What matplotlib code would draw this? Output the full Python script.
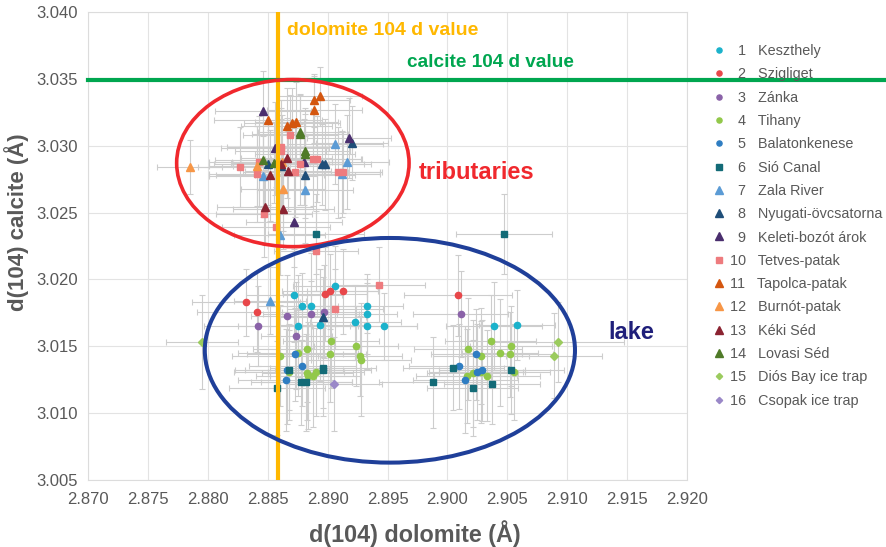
import matplotlib
matplotlib.use("Agg")
from matplotlib import pyplot as plt
from matplotlib.patches import Ellipse
from matplotlib.lines import Line2D

plt.rcParams['font.family'] = ['Liberation Sans', 'DejaVu Sans']

# ---- data: d(104) dolomite (x) and d(104) calcite (y), with error bars ----
names = ["Keszthely", "Szigliget", "Zánka", "Tihany", "Balatonkenese", "Sió Canal",
         "Zala River", "Nyugati-övcsatorna", "Keleti-bozót árok", "Tetves-patak",
         "Tapolca-patak", "Burnót-patak", "Kéki Séd", "Lovasi Séd",
         "Diós Bay ice trap", "Csopak ice trap"]

kesz_x = [2.8906, 2.8872, 2.8879, 2.8886, 2.8933, 2.8933, 2.8923, 2.8933, 2.8947, 2.8875, 2.8894, 2.9039, 2.9058]
kesz_y = [3.0195, 3.0188, 3.0180, 3.0180, 3.0180, 3.0174, 3.0168, 3.0165, 3.0165, 3.0165, 3.0166, 3.0165, 3.0166]
kesz_xe = [0.0035, 0.0040, 0.0030, 0.0045, 0.0030, 0.0025, 0.0038, 0.0042, 0.0028, 0.0050, 0.0036, 0.0040, 0.0032]
kesz_ye = [0.0030, 0.0035, 0.0025, 0.0040, 0.0020, 0.0030, 0.0028, 0.0032, 0.0025, 0.0038, 0.0042, 0.0033, 0.0026]

szig_x = [2.8832, 2.8841, 2.8898, 2.8902, 2.8913, 2.9009]
szig_y = [3.0183, 3.0176, 3.0189, 3.0191, 3.0191, 3.0188]
szig_xe = [0.0045, 0.0050, 0.0035, 0.0040, 0.0030, 0.0045]
szig_ye = [0.0025, 0.0030, 0.0035, 0.0028, 0.0032, 0.0030]

zank_x = [2.8866, 2.8886, 2.8897, 2.8842, 2.8874, 2.9011]
zank_y = [3.0173, 3.0174, 3.0176, 3.0165, 3.0158, 3.0174]
zank_xe = [0.0030, 0.0040, 0.0035, 0.0045, 0.0030, 0.0040]
zank_ye = [0.0030, 0.0025, 0.0035, 0.0030, 0.0040, 0.0032]

tih_x = [2.8903, 2.8924, 2.8883, 2.8875, 2.8860, 2.8902, 2.8927, 2.8928, 2.8883, 2.8884, 2.8888, 2.8890,
         2.8868, 2.9036, 2.9053, 2.9017, 2.9028, 2.9044, 2.9052, 2.9016, 2.9021, 2.9028, 2.9033, 2.9056]
tih_y = [3.0154, 3.0150, 3.0148, 3.0145, 3.0143, 3.0144, 3.0143, 3.0140, 3.0130, 3.0128, 3.0128, 3.0131,
         3.0131, 3.0154, 3.0150, 3.0148, 3.0143, 3.0145, 3.0144, 3.0128, 3.0130, 3.0131, 3.0128, 3.0131]
tih_xe = [0.0040, 0.0035, 0.0045, 0.0050, 0.0040, 0.0030, 0.0035, 0.0042, 0.0038, 0.0044, 0.0036, 0.0040,
          0.0046, 0.0038, 0.0034, 0.0045, 0.0040, 0.0032, 0.0036, 0.0042, 0.0038, 0.0035, 0.0044, 0.0030]
tih_ye = [0.0035, 0.0030, 0.0040, 0.0032, 0.0038, 0.0036, 0.0030, 0.0042, 0.0035, 0.0040, 0.0038, 0.0033,
          0.0036, 0.0034, 0.0030, 0.0038, 0.0036, 0.0040, 0.0032, 0.0035, 0.0040, 0.0038, 0.0034, 0.0036]

bal_x = [2.8873, 2.8879, 2.8866, 2.8865, 2.9024, 2.9010, 2.9029, 2.9025, 2.9015]
bal_y = [3.0144, 3.0135, 3.0132, 3.0125, 3.0144, 3.0135, 3.0132, 3.0131, 3.0125]
bal_xe = [0.0040, 0.0045, 0.0035, 0.0040, 0.0038, 0.0042, 0.0036, 0.0040, 0.0044]
bal_ye = [0.0035, 0.0030, 0.0040, 0.0038, 0.0034, 0.0032, 0.0038, 0.0036, 0.0040]

sio_x = [2.8868, 2.8858, 2.8878, 2.8882, 2.8896, 2.8896, 2.8890, 2.9047, 2.9005, 2.8988, 2.9021, 2.9037, 2.9053]
sio_y = [3.0132, 3.0119, 3.0123, 3.0123, 3.0134, 3.0132, 3.0234, 3.0234, 3.0134, 3.0123, 3.0119, 3.0122, 3.0132]
sio_xe = [0.0045, 0.0040, 0.0042, 0.0038, 0.0044, 0.0040, 0.0040, 0.0040, 0.0042, 0.0045, 0.0038, 0.0040, 0.0044]
sio_ye = [0.0030, 0.0035, 0.0032, 0.0036, 0.0030, 0.0034, 0.0030, 0.0030, 0.0032, 0.0034, 0.0036, 0.0030, 0.0033]

zala_x = [2.8906, 2.8916, 2.8846, 2.8881, 2.8860, 2.8912, 2.8852]
zala_y = [3.0301, 3.0288, 3.0277, 3.0267, 3.0233, 3.0279, 3.0184]
zala_xe = [0.0040, 0.0035, 0.0045, 0.0040, 0.0038, 0.0032, 0.0030]
zala_ye = [0.0030, 0.0035, 0.0030, 0.0040, 0.0030, 0.0032, 0.0025]

nyug_x = [2.8850, 2.8861, 2.8920, 2.8881, 2.8895, 2.8898, 2.8896]
nyug_y = [3.0286, 3.0285, 3.0302, 3.0278, 3.0286, 3.0286, 3.0172]
nyug_xe = [0.0045, 0.0040, 0.0030, 0.0042, 0.0035, 0.0038, 0.0036]
nyug_ye = [0.0030, 0.0035, 0.0028, 0.0032, 0.0030, 0.0034, 0.0030]

kel_x = [2.8846, 2.8856, 2.8880, 2.8918, 2.8872]
kel_y = [3.0326, 3.0298, 3.0288, 3.0306, 3.0243]
kel_xe = [0.0040, 0.0045, 0.0038, 0.0035, 0.0040]
kel_ye = [0.0030, 0.0035, 0.0032, 0.0030, 0.0034]

tet_x = [2.8869, 2.8861, 2.8861, 2.8843, 2.8827, 2.8841, 2.8873, 2.8877, 2.8888, 2.8891, 2.8909, 2.8913,
         2.8847, 2.8857, 2.8890, 2.8943, 2.8906]
tet_y = [3.0308, 3.0299, 3.0296, 3.0288, 3.0284, 3.0279, 3.0280, 3.0286, 3.0290, 3.0290, 3.0280, 3.0280,
         3.0249, 3.0239, 3.0221, 3.0196, 3.0178]
tet_xe = [0.0040, 0.0045, 0.0038, 0.0042, 0.0035, 0.0040, 0.0044, 0.0036, 0.0040, 0.0038, 0.0035, 0.0032,
          0.0040, 0.0045, 0.0035, 0.0038, 0.0040]
tet_ye = [0.0030, 0.0035, 0.0032, 0.0034, 0.0030, 0.0036, 0.0033, 0.0030, 0.0035, 0.0032, 0.0034, 0.0030,
          0.0032, 0.0030, 0.0030, 0.0028, 0.0030]

tap_x = [2.8889, 2.8894, 2.8889, 2.8850, 2.8866, 2.8870, 2.8874]
tap_y = [3.0334, 3.0337, 3.0327, 3.0319, 3.0315, 3.0317, 3.0318]
tap_xe = [0.0030, 0.0035, 0.0040, 0.0045, 0.0038, 0.0040, 0.0035]
tap_ye = [0.0020, 0.0022, 0.0025, 0.0030, 0.0028, 0.0026, 0.0030]

bur_x = [2.8785, 2.8841, 2.8863, 2.8862]
bur_y = [3.0284, 3.0285, 3.0268, 3.0288]
bur_xe = [0.0027, 0.0040, 0.0035, 0.0042]
bur_ye = [0.0020, 0.0030, 0.0032, 0.0035]

keki_x = [2.8861, 2.8866, 2.8852, 2.8867, 2.8848, 2.8863]
keki_y = [3.0286, 3.0291, 3.0278, 3.0281, 3.0254, 3.0253]
keki_xe = [0.0040, 0.0038, 0.0045, 0.0036, 0.0040, 0.0042]
keki_ye = [0.0032, 0.0030, 0.0034, 0.0030, 0.0028, 0.0030]

lov_x = [2.8877, 2.8877, 2.8881, 2.8881, 2.8846, 2.8855]
lov_y = [3.0310, 3.0309, 3.0296, 3.0294, 3.0289, 3.0287]
lov_xe = [0.0035, 0.0040, 0.0038, 0.0042, 0.0040, 0.0036]
lov_ye = [0.0028, 0.0030, 0.0032, 0.0030, 0.0034, 0.0030]

dios_x = [2.8795, 2.9092, 2.9089]
dios_y = [3.0153, 3.0153, 3.0143]
dios_xe = [0.0030, 0.0055, 0.0040]
dios_ye = [0.0035, 0.0030, 0.0032]

csop_x = [2.8905]
csop_y = [3.0122]
csop_xe = [0.0040]
csop_ye = [0.0035]

dolomite_d = 2.8859
calcite_d = 3.0349

xs = [kesz_x, szig_x, zank_x, tih_x, bal_x, sio_x, zala_x, nyug_x, kel_x, tet_x, tap_x, bur_x, keki_x, lov_x, dios_x, csop_x]
ys = [kesz_y, szig_y, zank_y, tih_y, bal_y, sio_y, zala_y, nyug_y, kel_y, tet_y, tap_y, bur_y, keki_y, lov_y, dios_y, csop_y]
xes = [kesz_xe, szig_xe, zank_xe, tih_xe, bal_xe, sio_xe, zala_xe, nyug_xe, kel_xe, tet_xe, tap_xe, bur_xe, keki_xe, lov_xe, dios_xe, csop_xe]
yes = [kesz_ye, szig_ye, zank_ye, tih_ye, bal_ye, sio_ye, zala_ye, nyug_ye, kel_ye, tet_ye, tap_ye, bur_ye, keki_ye, lov_ye, dios_ye, csop_ye]

colors = ['#1BB2CB', '#E8474A', '#8A62A8', '#92C84A', '#2E7DC2', '#136B77', '#5B9BD5', '#1F4E79',
          '#4A2E6E', '#EE7B7E', '#D4560F', '#F79646', '#8B2331', '#4F7A28', '#9BCB5E', '#9A88C8']
markers = ['o', 'o', 'o', 'o', 'o', 's', '^', '^', '^', 's', '^', '^', '^', '^', 'D', 'D']
msizes = [4.5, 4.5, 4.5, 4.5, 4.5, 5, 6, 6, 6, 5, 6, 6, 6, 6, 4, 4]

fig = plt.figure(figsize=(8.86, 5.47), dpi=100)
ax = fig.add_axes([88 / 886, 1 - 480 / 547, 599 / 886, 468 / 547])

# error bars first, markers on top
for i in range(len(names)):
    ax.errorbar(xs[i], ys[i], xerr=xes[i], yerr=yes[i], fmt='none', ecolor='#CDCDCD',
                elinewidth=0.8, capsize=2, capthick=0.8, zorder=2)

handles = []
for i in range(len(names)):
    ax.plot(xs[i], ys[i], linestyle='none', marker=markers[i], ms=msizes[i],
            color=colors[i], mec=colors[i], zorder=3)
    handles.append(Line2D([], [], linestyle='none', marker=markers[i], ms=msizes[i] - 0.8,
                          color=colors[i]))

# reference lines
ax.axvline(dolomite_d, color='#FFB800', lw=3, zorder=4)
ax.axhline(calcite_d, xmin=0, xmax=(886 - 88) / 599, color='#00A650', lw=3, zorder=4, clip_on=False)
ax.text(2.8866, 3.0386, "dolomite 104 d value", color='#FFB800', fontsize=14,
        fontweight='bold', ha='left', va='center')
ax.text(2.8966, 3.0362, "calcite 104 d value", color='#00A650', fontsize=13.7,
        fontweight='bold', ha='left', va='center')

# group ellipses
ax.add_patch(Ellipse((2.8871, 3.0287), 0.0194, 0.0125, fill=False, ec='#F0282D', lw=2.6, zorder=5))
ax.add_patch(Ellipse((2.8952, 3.0147), 0.0309, 0.0168, fill=False, ec='#1F3F99', lw=2.9, zorder=5))
ax.text(2.8976, 3.0280, "tributaries", color='#F0282D', fontsize=17, fontweight='bold',
        ha='left', va='center')
ax.text(2.9134, 3.0160, "lake", color='#1F1F7A', fontsize=17, fontweight='bold',
        ha='left', va='center')

ax.set_xlim(2.870, 2.920)
ax.set_ylim(3.005, 3.040)
ax.set_xticks([2.870 + 0.005 * k for k in range(11)])
ax.set_yticks([3.005 + 0.005 * k for k in range(8)])
ax.xaxis.set_major_formatter(matplotlib.ticker.FormatStrFormatter('%.3f'))
ax.yaxis.set_major_formatter(matplotlib.ticker.FormatStrFormatter('%.3f'))
ax.tick_params(length=0, labelsize=12, labelcolor='#595959')
ax.tick_params(axis='x', pad=9)
ax.tick_params(axis='y', pad=7)
ax.grid(True, color='#E3E3E3', lw=0.8)
ax.set_axisbelow(True)
for s in ax.spines.values():
    s.set_color('#DCDCDC')
    s.set_linewidth(0.8)

ax.set_xlabel("d(104) dolomite (Å)", fontsize=16.8, fontweight='bold', color='#595959')
ax.set_ylabel("d(104) calcite (Å)", fontsize=16, fontweight='bold', color='#595959')
ax.xaxis.set_label_coords(0.546, -0.086)
ax.yaxis.set_label_coords(-0.098, 0.551)

labels = []
for i, n in enumerate(names):
    num = str(i + 1) if i >= 9 else '\u2007' + str(i + 1)
    labels.append(num + '   ' + n)
fig.legend(handles, labels, loc='upper left', bbox_to_anchor=(712 / 886, 1 - 44 / 547),
           frameon=False, fontsize=10.4, labelcolor='#595959', handlelength=1.0,
           handletextpad=0.25, labelspacing=0.645, borderpad=0, borderaxespad=0)

fig.savefig("out.png", dpi=100)
